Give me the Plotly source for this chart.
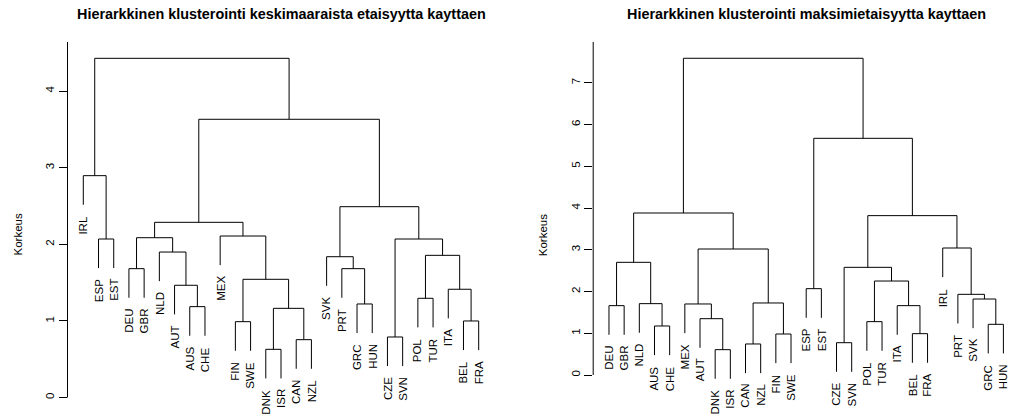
import plotly.graph_objects as go

# ---------------- data ----------------
# Average linkage (left)
avg_order = ["IRL", "ESP", "EST", "DEU", "GBR", "NLD", "AUT", "AUS", "CHE", "MEX",
             "FIN", "SWE", "DNK", "ISR", "CAN", "NZL", "SVK", "PRT", "GRC", "HUN",
             "CZE", "SVN", "POL", "TUR", "ITA", "BEL", "FRA"]
# merges: leaf names or 1-based indices of earlier merges
avg_merge_a = ["DNK", "CAN", "CZE", "FIN", "BEL", 1, "AUS", "GRC", "POL", "ITA", "AUT", 4, "DEU",
               "PRT", "SVK", 9, "NLD", "ESP", 3, 13, "MEX", 20, 15, "IRL", 22, 24]
avg_merge_b = ["ISR", "NZL", "SVN", "SWE", "FRA", 2, "CHE", "HUN", "TUR", 5, 7, 6, "GBR",
               8, 14, 10, 11, "EST", 16, 17, 12, 21, 19, 18, 23, 25]
avg_height = [0.629, 0.755, 0.790, 0.990, 0.999, 1.164, 1.186, 1.221, 1.295, 1.413, 1.465, 1.543, 1.682,
              1.682, 1.838, 1.856, 1.899, 2.069, 2.069, 2.086, 2.108, 2.287, 2.491, 2.896, 3.632, 4.428]

# Complete linkage (right)
max_order = ["DEU", "GBR", "NLD", "AUS", "CHE", "MEX", "AUT", "DNK", "ISR", "CAN",
             "NZL", "FIN", "SWE", "ESP", "EST", "CZE", "SVN", "POL", "TUR", "ITA",
             "BEL", "FRA", "IRL", "PRT", "SVK", "GRC", "HUN"]
max_merge_a = ["DNK", "CAN", "CZE", "FIN", "BEL", "AUS", "GRC", "POL", "AUT", "ITA", "DEU", "MEX", "NLD",
               2, "SVK", "PRT", "ESP", 8, 3, 11, 12, "IRL", 19, 20, 17, 24]
max_merge_b = ["ISR", "NZL", "SVN", "SWE", "FRA", "CHE", "HUN", "TUR", 1, 5, "GBR", 9, 6,
               4, 7, 15, "EST", 10, 18, 13, 14, 16, 22, 21, 23, 25]
max_height = [0.607, 0.743, 0.774, 0.982, 0.990, 1.174, 1.214, 1.278, 1.349, 1.661, 1.661, 1.701, 1.709,
              1.725, 1.820, 1.932, 2.068, 2.251, 2.579, 2.699, 3.018, 3.042, 3.817, 3.880, 5.669, 7.586]

avg_title = "Hierarkkinen klusterointi keskimaaraista etaisyytta kayttaen"
max_title = "Hierarkkinen klusterointi maksimietaisyytta kayttaen"
y_title = "Korkeus"
avg_ticks = [0, 1, 2, 3, 4]
max_ticks = [0, 1, 2, 3, 4, 5, 6, 7]

HANG = 0.1
FONT = "Liberation Sans, Arial, Helvetica, sans-serif"
W, H = 1010, 420


def dendro(order, ma, mb, hts):
    pos = {name: i + 1 for i, name in enumerate(order)}
    hang = HANG * (max(hts) - min(hts))
    node_xy = {}
    leaf_xy = {}
    xs, ys = [], []

    def child(c, h):
        if isinstance(c, str):
            x, y = pos[c], h - hang
            leaf_xy[c] = (x, y)
            return x, y
        return node_xy[c]

    for k, (a, b, h) in enumerate(zip(ma, mb, hts), start=1):
        xa, ya = child(a, h)
        xb, yb = child(b, h)
        xs += [xa, xa, xb, xb, None]
        ys += [ya, h, h, yb, None]
        node_xy[k] = ((xa + xb) / 2, h)
    return xs, ys, leaf_xy


fig = go.Figure()
annotations = []
shapes = []

panels = [
    (avg_order, avg_merge_a, avg_merge_b, avg_height, avg_title, avg_ticks, "x", "y", "",
     [67.5, 494.5], [-0.04, 28.04], [(397.5 - 420) / 76.6, (397.5 - 42) / 76.6], 281.0),
    (max_order, max_merge_a, max_merge_b, max_height, max_title, max_ticks, "x2", "y2", "2",
     [593.2, 1010], [-0.04, -0.04 + (1010 - 593.2) / 15.17], [(375 - 420) / 41.75, (375 - 42) / 41.75],
     806.1),
]

layout_axes = {}
for (order, ma, mb, hts, title, ticks, xr, yr, sfx, dom_px, xrange, yrange, title_cx) in panels:
    xs, ys, leaf_xy = dendro(order, ma, mb, hts)
    fig.add_trace(go.Scatter(x=xs, y=ys, mode="lines", xaxis=xr, yaxis=yr,
                             line=dict(color="#000000", width=1), hoverinfo="skip",
                             showlegend=False))
    for name, (x, y) in leaf_xy.items():
        annotations.append(dict(x=x, y=y, xref=xr, yref=yr, text=name, showarrow=False,
                                textangle=-90, xanchor="center", yanchor="top", yshift=-9,
                                font=dict(family=FONT, size=11.5, color="#000000")))
    dom = [dom_px[0] / W, dom_px[1] / W]
    layout_axes["xaxis" + sfx] = dict(domain=dom, range=xrange, visible=False,
                                      anchor=yr)
    layout_axes["yaxis" + sfx] = dict(domain=[0, 1 - 42 / H], range=yrange, anchor=xr,
                                      showgrid=False, zeroline=False, showline=False,
                                      tickmode="array", tickvals=ticks,
                                      ticktext=[str(t) for t in ticks],
                                      ticks="outside", ticklen=8, tickcolor="#000000",
                                      tickwidth=1, tickangle=-90,
                                      tickfont=dict(family=FONT, size=11.5, color="#000000"))
    # axis line from 0 to top of plot region
    shapes.append(dict(type="line", xref=xr + " domain", yref=yr, x0=0, x1=0,
                       y0=0, y1=yrange[1], line=dict(color="#000000", width=1)))
    # title
    annotations.append(dict(x=title_cx / W, y=1 - 14 / H, xref="paper", yref="paper",
                            text="<b>" + title + "</b>", showarrow=False,
                            xanchor="center", yanchor="middle",
                            font=dict(family=FONT, size=14.4, color="#000000")))
    # y title
    annotations.append(dict(x=(dom_px[0] - 50) / W, y=1 - 235 / H, xref="paper", yref="paper",
                            text=y_title, showarrow=False, textangle=-90,
                            xanchor="center", yanchor="middle",
                            font=dict(family=FONT, size=11.5, color="#000000")))

fig.update_layout(width=W, height=H, margin=dict(l=0, r=0, t=0, b=0),
                  paper_bgcolor="white", plot_bgcolor="white",
                  annotations=annotations, shapes=shapes, **layout_axes)

fig.write_html("out.html")
